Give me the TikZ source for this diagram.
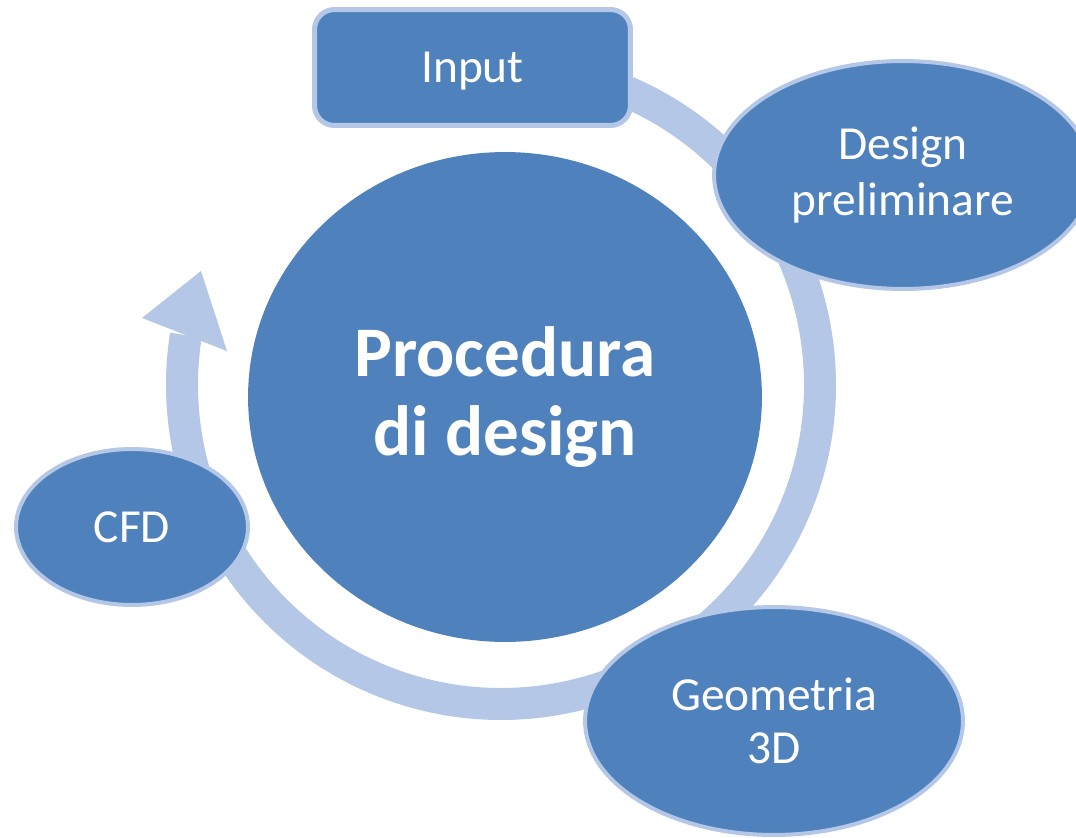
\documentclass[tikz,border=0pt]{standalone}
\usepackage{fontspec}
\setmainfont{Carlito}
\usepackage{xcolor}
\usepackage{tikz}
\usetikzlibrary{shapes.geometric}

\definecolor{stageblue}{HTML}{4F81BD}
\definecolor{ringblue}{HTML}{B4C7E7}

\begin{document}
\begin{tikzpicture}[x=0.02cm,y=0.02cm,
    stage/.style={ellipse,fill=stageblue,draw=ringblue,line width=0.08cm,
      inner sep=0pt,text=white,align=center,
      minimum width=7.56cm,minimum height=4.56cm,
      font=\fontsize{27}{32}\selectfont},
    inputbox/.style={rectangle,rounded corners=0.4cm,fill=stageblue,draw=ringblue,
      line width=0.1cm,inner sep=0pt,text=white,text depth=0pt,
      minimum width=6.32cm,minimum height=2.32cm,
      font=\fontsize{27}{32}\selectfont}]
      \useasboundingbox (0,0) rectangle (1076,-838); % size of the reference

      % ring with arrow
      \draw [ringblue,line width=0.64cm] (501,-385) ++(95:319) arc[start angle=95,end angle=-189,radius=319];
      \fill [ringblue] (142,-318) -- (201,-271) -- (227,-351) -- cycle;

      \node [ellipse,fill=stageblue,inner sep=0pt,minimum width=10.28cm,minimum height=9.8cm,
        text=white,align=center,font=\fontsize{40.5}{45}\selectfont\bfseries] (procedura) at (505,-397) {Procedura\\di design};

      \node [inputbox] (input) at (472.5,-67.5) {Input};
      \node [stage] (preliminare) at (903,-175) {Design\\preliminare};
      \node [stage,font=\fontsize{27}{30}\selectfont] (geometria) at (774,-721) {Geometria\\3D};
      \node [stage,minimum width=4.64cm,minimum height=3.12cm] (cfd) at (132,-527) {CFD};
    \end{tikzpicture}
\end{document}
